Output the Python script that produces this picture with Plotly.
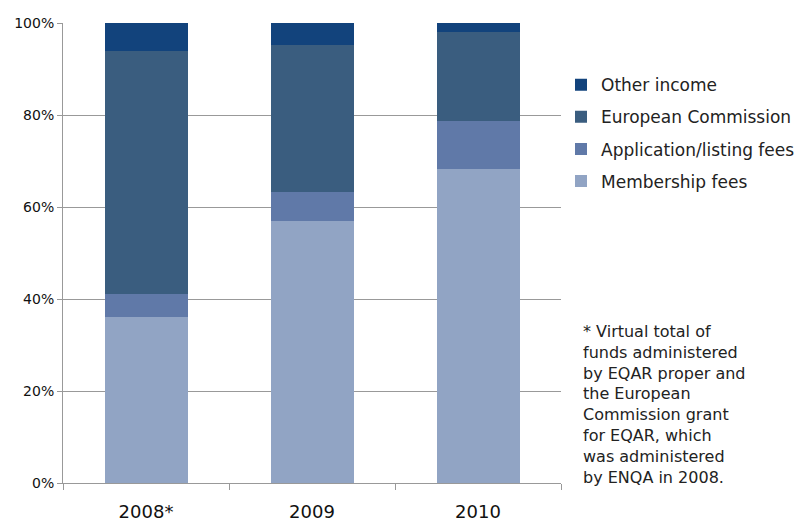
import plotly.graph_objects as go

years = ["2008*", "2009", "2010"]
membership = [36, 57, 68.3]
application = [5, 6.3, 10.4]
commission = [53, 31.9, 19.3]
other = [6, 4.8, 2.0]

# name, values, colour, place in legend
series = [
    ("Membership fees", membership, "#91a4c4", 4),
    ("Application/listing fees", application, "#6079a8", 3),
    ("European Commission", commission, "#3a5d7f", 2),
    ("Other income", other, "#12437c", 1),
]

fig = go.Figure()
for name, vals, col, rank in series:
    fig.add_trace(go.Bar(x=years, y=vals, name=name, legendgroup=name,
                         legendrank=rank,
                         marker=dict(color=col, line=dict(width=0))))

font = "DejaVu Sans, sans-serif"
# the page body adds an 8px margin, so the figure is 8px smaller
fig.update_layout(
    width=795, height=516,
    barmode="stack", bargap=0.5,
    plot_bgcolor="white", paper_bgcolor="white",
    margin=dict(l=55, r=242, t=15, b=41, autoexpand=False),
    font=dict(family=font, color="#111111"),
    showlegend=True,
    legend=dict(x=1.0, y=0.904, xanchor="left", yanchor="top",
                traceorder="grouped", tracegroupgap=7,
                font=dict(size=17, color="#222222"), itemwidth=30),
    yaxis=dict(range=[0, 100], tickvals=[0, 20, 40, 60, 80, 100],
               ticktext=["0%", "20%", "40%", "60%", "80%", "100%"],
               showgrid=True, gridcolor="#999999", gridwidth=1,
               layer="above traces", showline=True, linecolor="#999999",
               ticks="outside", ticklen=5, tickcolor="#999999",
               tickfont=dict(size=14), zeroline=False, automargin=False),
    xaxis=dict(showline=True, linecolor="#999999", ticks="outside",
               tickson="boundaries", ticklen=6, tickcolor="#999999",
               ticklabelstandoff=12,
               tickfont=dict(size=18), automargin=False),
)

fig.add_annotation(
    xref="paper", yref="paper", x=1.04, y=0.355, xanchor="left", yanchor="top",
    align="left", showarrow=False, font=dict(size=16, color="#222222"),
    text="* Virtual total of<br>funds administered<br>by EQAR proper and<br>the European<br>"
         "Commission grant<br>for EQAR, which<br>was administered<br>by ENQA in 2008.",
)

fig.write_html("out.html")
